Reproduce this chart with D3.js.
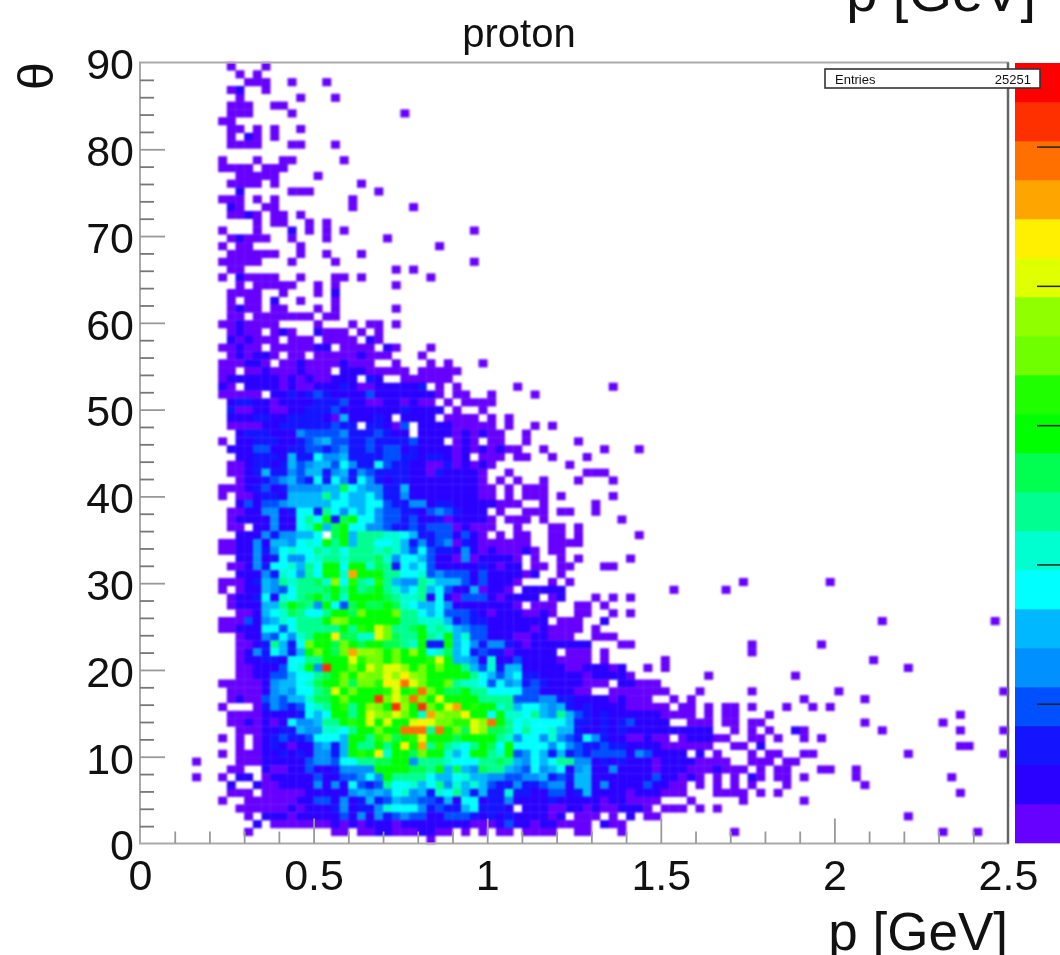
<!DOCTYPE html>
<html><head><meta charset="utf-8">
<script src="https://cdn.jsdelivr.net/npm/d3@7/dist/d3.min.js"></script>
<style>
html,body{margin:0;padding:0;background:#fff;overflow:hidden}
svg{display:block;font-family:"Liberation Sans",Arial,sans-serif}
.cells{filter:blur(0.9px)}
.fr{filter:blur(0.5px)}
text{fill:#111}
</style></head><body>
<svg id="c" width="1060" height="955"></svg>
<script>
// Histogram: each row is one theta bin from the top (r=0: 89.1-90 deg). "startColumn:levels", one base-36 colour level per p bin.
const thetaRows=[
"10:0 14:0","11:0 13:0","12:000 17:0 21:0","10:01 14:0","11:0 18:0 22:0","10:000 15:00","10:000 17:0 30:0","9:00",
"10:00 13:0 15:0 18:0","10:0 12:10 15:0","10:0000 17:00 22:0","","9:0 13:0 16:00 23:0","9:0000 14:000","11:00000 20:0",
"10:0000 15:0 25:0","11:1 17:000 27:0","9:000 13:0 15:0 24:0","10:10 14:00 24:0 31:0","10:0010 15:00 18:0",
"13:0 15:00 19:0 21:0","9:0 13:0 17:1 19:0 21:0 23:0 38:0","10:01000 17:0 21:0 28:0","9:0 11:00 18:0 34:0",
"10:000000 18:0 21:0 25:0","9:00000 17:0 22:0 38:0","10:00 29:0 31:0","9:0 11:10000 18:0 22:00 25:0 33:0",
"11:0 13:00 15:000 20:0 22:0 29:0","10:0000 16:0 20:0 22:1","10:0 12:00 15:1 18:0 22:0","10:0100 15:00 20:0 22:0 29:0",
"10:00 13:0000000 21:00","9:0010000 20:0 24:0 26:00 29:0",
"10:0100 15:010 20:1000 25:0 27:0",
"10:101000 17:000 21:0000 26:10",
"9:00100 15:0000011 23:0000 28:10 33:0",
"10:010110 17:00 20:000001000 32:0",
"9:000110 16:00100001000 29:0 33:0 35:0 39:0",
"9:00 12:0010001000 23:11100000 32:0000 36:0",
"9:0111111010100111 26:21 30:000000",
"9:10 12:111101001112100111112 34:0 36:0 43:0 54:0",
"9:00000 15:11212321111311111110 36:00 40:0 45:0",
"10:122110111122231100110100 35:0 37:0000",
"10:2001100112223111111121111 36:0 39:0",
"10:1112211222210511121 30:1111 35:0000 40:0 42:0",
"10:000011222222322 26:22103 32:111100000 42:0 45:0 47:0",
"11:12221114333342223211 32:1111 36:010100 44:0",
"9:0 11:112221123453322322223111 36:010 40:00 44:0 50:0",
"10:11133112233234223233121111 36:01010100 46:0 53:0 57:0",
"11:1122215226445222233221221 36:01 39:000 43:00 47:0 51:0",
"10:00122125345536422632211002 36:01010 49:0",
"10:00125224355245243222211021 36:1110 42:0 51:000",
"11:0112345326264264212211111 36:1110 41:0 43:0 46:0 50:0 54:0",
"9:000123124444559654422511111 36:11100 42:0 44:000",
"9:0 11:0012215555856556422411111 36:11100 42:0 44:000 48:0 54:0",
"11:1313345555566556632244122 36:11111000 46:0 52:0",
"10:00114412662864656433221343 36:2111 41:0 44:000 48:00 52:0",
"10:01111411686a29a66433231120 36:11110 42:000 46:0 55:0",
"10:00 13:1141168 19:7a59a664432232333 36:01000 43:0 47:00 50:0",
"11:1114244556 22:9a58887765 32:22331310 41:0 43:00 47:00 50:0 57:0",
"9:0011415546 19:76a8a58866 29:7524234021 39:000000 47:0000",
"9:0011424676 19:6878688878 29:7536322141 39:0100010 47:00",
"11:1141264467 21:8878889746 31:6531104011 41:110 45:0 48:0 50:0 56:0",
"10:0014266758 20:6aa6aa7982 30:6563111112 40:1011 45:00 48:00 53:00",
"11:1114276486 21:aa7gaaa886 31:6734333131 41:11101 48:0",
"9:0001254878 19:897d6b87b8 29:5448755531 39:31110 47:0 49:0 69:0 79:0",
"9:0 11:0115436888 21:9a8a89a875 31:6856311501 41:10 44:11111 61:0 67:0",
"10:0112617689 20:a8a7aaaa98 30:7781610333 40:101111 47:01 52:0 54:0 56:0",
"10:0111558a98 20:4a639a99a9 30:7655641111 40:1110 45:000 50:00 53:0",
"11:0015679866 21:8aa9caaac8 31:8656333210 41:1110010 50:00 54:0 56:0",
"9:0003145768 19:88adcaaaaa 29:a887775232 39:21111111 48:000 53:1 85:0 98:0",
"9:0011166368 19:8888a8baec 29:889a787543 39:311111010000 52:0",
"11:011436478a 21:af9977ec98 31:8a87a57331 41:110011000 52:000",
"11:00128526ca 21:a9ca9aa998 31:7a22a56424 41:42101111111 55:00 70:0 78:0",
"11:01426525ac 21:a9cgddcaca 31:da67956232 41:2011111 49:000 53:0 70:0",
"11:0112216688 21:aaaebccaca 31:aabea55417 41:11311110000 53:0 60:0 84:0",
"11:00111367a4 21:iaacaeceed 31:acacaa8537 41:255111110011101 58:0 60:0 88:0",
"11:0011335668 21:9acadccedf 31:dcaaaaa865 41:3562211111011110 65:0 75:0",
"9:00000145567 20:9aac9ccbfe 30:hecaac8776 40:3645232111 50:1000 55:11000",
"10:0000145466 20:89eacaaabe 30:abhca99a88 40:6666331111 50:00 54:0000000 64:0 70:0 80:0 99:0",
"10:0100343557 20:99acaaaice 30:chcaeaaaa8 40:8883334422 50:111101000 61:0 63:0 76:0 83:0",
"9:0 13:024323678a 23:b8adcaidai 33:caegabaa78 43:5665452121 53:1110000 60:0 62:00 65:0 67:00 70:0 74:0 77:0 79:0",
"10:0000111126 20:56aa8aedce 30:ca7gdccfaa 40:6a77685485 50:32121111110 61:000 65:0 67:00 72:0 94:0",
"10:0010101644 20:588abaeaea 30:aefeccbbed 40:ha86766665 50:22121231111 63:000 67:00 70:00 83:0 92:0",
"11:0001122544 21:7768aacaah 31:hh8hac9ed9 41:9868667552 51:112121111111111 68:0 70:0 72:0 75:10 85:0 94:0 99:0",
"9:0 11:0 13:0123223666 23:5aa8bc9abe 33:aaa9aaaa87 43:4664743264 53:21100100 62:011100 70:00 73:0 76:0 78:0",
"11:0 13:0121011452 23:5a88a8afag 33:8b8768a96a 43:6666464322 53:3221111000000 68:00 71:1 94:00",
"9:0 11:000112121442 23:5abaf7aa9c 33:aa756aa87a 43:3465252323 53:3331431111 64:1 66:0 70:0 72:00 76:00 88:0 99:0",
"6:0 11:000111113443 23:668899aa48 33:8876668898 43:5465688441 53:212111011110000 70:000 74:00",
"10:00 14:100113112 23:4444aaaa99 33:8a59549885 43:4364561451 53:1411110111 63:0001000 71:0 73:00 78:00 82:0",
"6:0 9:0 11:11 14:011111311 23:33464a8888 33:6556755443 43:3445232551 53:111111311010 66:0 68:0 70:10 73:00 76:0 82:0 93:0",
"10:1 13:1001111414 23:1632386675 33:6847575322 43:4223441551 53:4111131100 64:0 66:0 68:0 70:0 74:0 83:0",
"10:000 14:000001111 23:1454546745 33:2768525227 43:2211331251 53:1110111000 66:0000 71:0 73:0 94:0",
"9:0 12:00000011331 23:4125235443 33:3251661224 43:1111211111 53:0110000 63:0 69:0 76:0",
"11:000000101112 23:4122476664 33:2322562221 44:111001101001110 60:000 64:0 66:0",
"12:0 14:111011111 23:3141423433 33:1133321212 43:111101 50:000 54:0 56:1 58:00 88:0",
"13:1 15:00000001 23:0101110111 33:1111100013 43:110110000 53:100",
"12:0 22:00 25:00110001100 37:0 39:0 41:00 44:0000 50:00 55:0 68:0 92:0 96:0",
"33:0"
];
const palette=["#6600ff","#2a00ff","#1414ff","#0050ff","#0090ff","#00b8ff","#00ffff","#00ffd0","#00ff90","#00ff50",
"#00ff00","#20ff00","#70ff00","#90ff00","#e0ff00","#ffef00","#ffa500","#ff7000","#ff3000","#ff0000"];
const xMajor=[0,0.5,1,1.5,2,2.5];
const xMinor=[0.1,0.2,0.3,0.4,0.6,0.7,0.8,0.9,1.1,1.2,1.3,1.4,1.6,1.7,1.8,1.9,2.1,2.2,2.3,2.4];
const yMajor=[0,10,20,30,40,50,60,70,80,90];
const yMinor=[2,4,6,8,12,14,16,18,22,24,26,28,32,34,36,38,42,44,46,48,52,54,56,58,62,64,66,68,72,74,76,78,82,84,86,88];
const zTicks=[10,20,30,40,50];
const zMax=56;
const binsX=100, binsY=100, pMax=2.5, thetaMax=90;
const titleText="proton", xTitle="p [GeV]", yTitle="\u03b8", statName="Entries", statValue="25251";

const cells=[];
thetaRows.forEach((row,r)=>row.split(" ").filter(Boolean).forEach(seg=>{
  const [s,l]=seg.split(":");
  [...l].forEach((ch,i)=>cells.push({col:+s+i,row:r,level:parseInt(ch,36)}));
}));

const svg=d3.select("#c");
const x=d3.scaleLinear().domain([0,pMax]).range([140,1008]);
const y=d3.scaleLinear().domain([0,thetaMax]).range([843.5,62.5]);
const pw=pMax/binsX, tw=thetaMax/binsY;
const colour=l=>palette[l];

svg.append("g").attr("class","cells").selectAll("rect").data(cells).join("rect")
  .attr("x",d=>x(d.col*pw)).attr("y",d=>y((binsY-d.row)*tw))
  .attr("width",x(pw)-x(0)+0.3).attr("height",y(0)-y(tw)+0.3)
  .attr("fill",d=>colour(d.level));

// frame
const gf=svg.append("g").attr("class","fr");
gf.append("path").attr("d",`M${x(0)},${y(thetaMax)}H${x(pMax)}V${y(0)}H${x(0)}Z`).attr("fill","none").attr("stroke","#aaa").attr("stroke-width",2);
gf.append("line").attr("x1",x(pMax)).attr("x2",x(pMax)).attr("y1",y(thetaMax)).attr("y2",y(0)).attr("stroke","#666").attr("stroke-width",2.5);

function style(g,col){g.select(".domain").remove();g.selectAll("line").attr("stroke",col).attr("stroke-width",1.8);
  g.selectAll("text").attr("font-size",43).style("fill","#111");}
const hideEnds=(g,lo,hi)=>g.selectAll(".tick line").filter(d=>d===lo||d===hi).attr("stroke","none");
const ax=d3.axisBottom(x).tickValues(xMajor).tickFormat(d3.format("~g")).tickSizeInner(-25).tickSizeOuter(0).tickPadding(7);
const axm=d3.axisBottom(x).tickValues(xMinor).tickFormat("").tickSizeInner(-12).tickSizeOuter(0);
const ay=d3.axisLeft(y).tickValues(yMajor).tickFormat(d3.format("d")).tickSizeInner(-25).tickSizeOuter(0).tickPadding(6);
const aym=d3.axisLeft(y).tickValues(yMinor).tickFormat("").tickSizeInner(-14).tickSizeOuter(0);
gf.append("g").attr("transform",`translate(0,${y(0)})`).call(ax).call(g=>{style(g,"#999");hideEnds(g,0,pMax);}).selectAll("text").attr("font-family","Liberation Sans").attr("dy","0.92em");
gf.append("g").attr("transform",`translate(0,${y(0)})`).call(axm).call(g=>style(g,"#999"));
gf.append("g").attr("transform",`translate(${x(0)},0)`).call(ay).call(g=>{style(g,"#999");hideEnds(g,0,thetaMax);}).selectAll("text").attr("font-family","Liberation Sans").attr("dy","0.38em");
gf.append("g").attr("transform",`translate(${x(0)},0)`).call(aym).call(g=>style(g,"#777"));

// colour bar
const zBand=d3.scaleBand().domain(d3.range(palette.length)).range([843,63]);
svg.append("g").attr("class","fr").selectAll("rect").data(palette).join("rect")
  .attr("x",1015).attr("width",46).attr("y",(d,i)=>zBand(i)).attr("height",zBand.bandwidth()+0.3).attr("fill",d=>d);
const z=d3.scaleLinear().domain([0,zMax]).range([843,63]);
svg.append("g").attr("transform","translate(1060,0)").call(d3.axisLeft(z).tickValues(zTicks).tickFormat("").tickSizeInner(23).tickSizeOuter(0))
  .call(g=>{g.select(".domain").remove();g.selectAll("line").attr("stroke","#222").attr("stroke-width",1.5);});

// stats box
const sb=svg.append("g").attr("class","fr");
sb.append("rect").attr("x",825).attr("y",69).attr("width",215).attr("height",19).attr("fill","#fff").attr("stroke","#333").attr("stroke-width",1.6);
sb.append("text").attr("x",835).attr("y",84).attr("font-size",13).text(statName);
sb.append("text").attr("x",1031).attr("y",84).attr("font-size",13).attr("text-anchor","end").text(statValue);

// titles
svg.append("text").attr("x",519).attr("y",47).attr("text-anchor","middle").attr("font-size",40).text(titleText);
svg.append("text").attr("x",1036).attr("y",11).attr("text-anchor","end").attr("font-size",56).text(xTitle);
svg.append("text").attr("x",1008).attr("y",950).attr("text-anchor","end").attr("font-size",53).text(xTitle);
svg.append("text").attr("transform","translate(53,76) rotate(-90)").attr("text-anchor","middle").attr("font-size",50).attr("font-weight",300).text(yTitle);
</script>
</body></html>
